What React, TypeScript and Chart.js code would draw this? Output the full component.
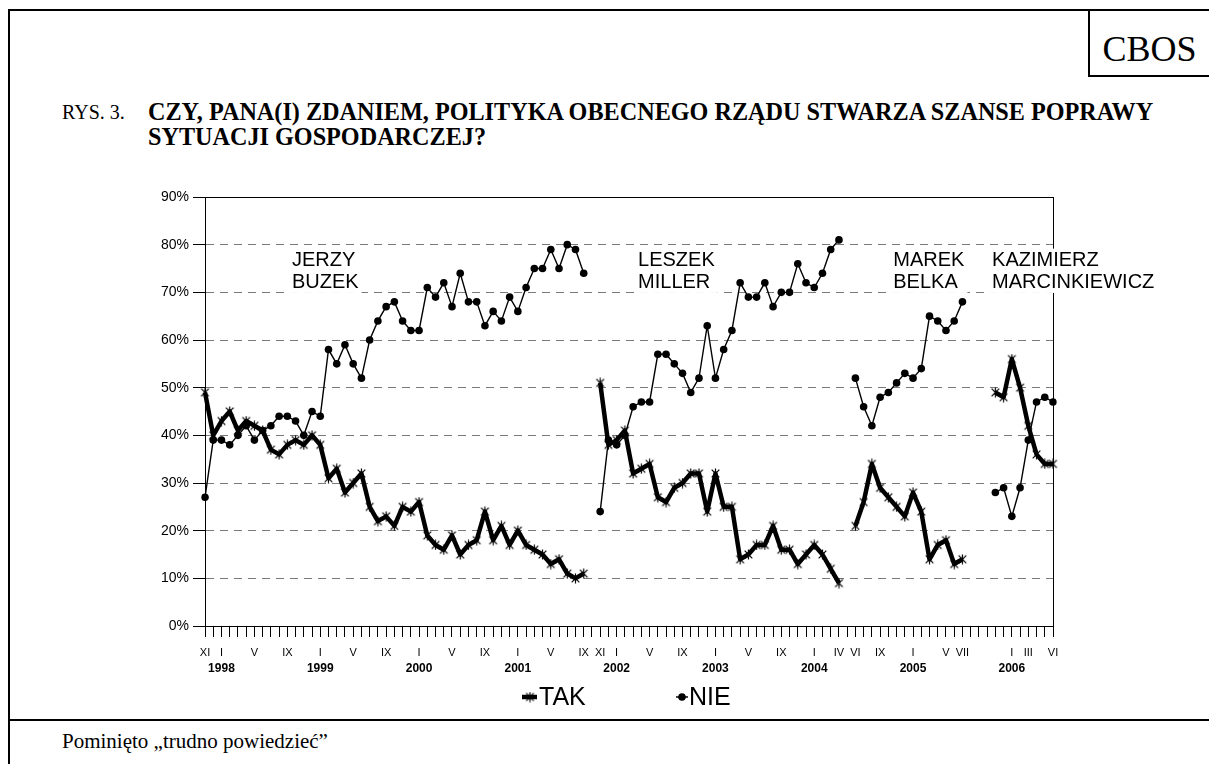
import React, { useEffect, useRef } from 'react';
import { Chart, registerables } from 'chart.js';

Chart.register(...registerables);

// ---- categories: one slot per month, XI 1997 .. VI 2006 ----
const ROMAN = ['I', 'II', 'III', 'IV', 'V', 'VI', 'VII', 'VIII', 'IX', 'X', 'XI', 'XII'];
const categories: string[] = [];
for (let yr = 1997; yr <= 2006; yr++) {
  for (let m = 1; m <= 12; m++) {
    if (yr === 1997 && m < 11) continue;
    if (yr === 2006 && m > 6) continue;
    categories.push(`${ROMAN[m - 1]} ${yr}`);
  }
}

// ---- tick labels ----
const monthTickLabels = [
  'XI 1997', 'I 1998', 'V 1998', 'IX 1998', 'I 1999', 'V 1999', 'IX 1999',
  'I 2000', 'V 2000', 'IX 2000', 'I 2001', 'V 2001', 'IX 2001', 'XI 2001',
  'I 2002', 'V 2002', 'IX 2002', 'I 2003', 'V 2003', 'IX 2003', 'I 2004',
  'IV 2004', 'VI 2004', 'IX 2004', 'I 2005', 'V 2005', 'VII 2005',
  'I 2006', 'III 2006', 'VI 2006',
];
const yearTickLabels = ['1998', '1999', '2000', '2001', '2002', '2003', '2004', '2005', '2006'];
const yTickValues = [0, 10, 20, 30, 40, 50, 60, 70, 80, 90];

// ---- series values (%) ----
// Buzek government: XI 1997 .. IX 2001
const takBuzek = [49, 40, 43, 45, 41, 43, 42, 41, 37, 36, 38, 39, 38, 40, 38, 31, 33, 28, 30, 32, 25, 22, 23, 21, 25, 24, 26, 19, 17, 16, 19, 15, 17, 18, 24, 18, 21, 17, 20, 17, 16, 15, 13, 14, 11, 10, 11];
const nieBuzek = [27, 39, 39, 38, 40, 42, 39, 41, 42, 44, 44, 43, 40, 45, 44, 58, 55, 59, 55, 52, 60, 64, 67, 68, 64, 62, 62, 71, 69, 72, 67, 74, 68, 68, 63, 66, 64, 69, 66, 71, 75, 75, 79, 75, 80, 79, 74];
// Miller government: XI 2001 .. IV 2004
const takMiller = [51, 38, 39, 41, 32, 33, 34, 27, 26, 29, 30, 32, 32, 24, 32, 25, 25, 14, 15, 17, 17, 21, 16, 16, 13, 15, 17, 15, 12, 9];
const nieMiller = [24, 39, 38, 40, 46, 47, 47, 57, 57, 55, 53, 49, 52, 63, 52, 58, 62, 72, 69, 69, 72, 67, 70, 70, 76, 72, 71, 74, 79, 81];
// Belka government: VI 2004 .. VII 2005
const takBelka = [21, 26, 34, 29, 27, 25, 23, 28, 24, 14, 17, 18, 13, 14];
const nieBelka = [52, 46, 42, 48, 49, 51, 53, 52, 54, 65, 64, 62, 64, 68];
// Marcinkiewicz government: XI 2005 .. VI 2006
const takMarc = [49, 48, 56, 50, 42, 36, 34, 34];
const nieMarc = [28, 29, 23, 29, 39, 47, 48, 47];

// months without a survey between governments: X 2001 | V 2004 | VIII-X 2005
const tak: (number | null)[] = [...takBuzek, null, ...takMiller, null, ...takBelka, null, null, null, ...takMarc];
const nie: (number | null)[] = [...nieBuzek, null, ...nieMiller, null, ...nieBelka, null, null, null, ...nieMarc];

const SANS = '"Liberation Sans", Arial, sans-serif';
const SERIF = '"Liberation Serif", "Times New Roman", serif';

function makeStar(size: number): HTMLCanvasElement {
  const c = document.createElement('canvas');
  c.width = size;
  c.height = size;
  const g = c.getContext('2d')!;
  g.strokeStyle = '#000';
  g.lineWidth = 1.2;
  const cx = size / 2;
  const r = size / 2 - 0.6;
  const d = r * 0.78;
  g.beginPath();
  g.moveTo(cx, cx - r);
  g.lineTo(cx, cx + r);
  g.moveTo(cx - d, cx - d);
  g.lineTo(cx + d, cx + d);
  g.moveTo(cx + d, cx - d);
  g.lineTo(cx - d, cx + d);
  g.stroke();
  return c;
}

const framePlugin = {
  id: 'plotFrame',
  beforeDatasetsDraw(chart: any) {
    const { ctx, chartArea: a } = chart;
    ctx.save();
    ctx.strokeStyle = '#000';
    ctx.lineWidth = 1;
    ctx.strokeRect(Math.round(a.left) + 0.5, Math.round(a.top) + 0.5, Math.round(a.right - a.left), Math.round(a.bottom - a.top));
    ctx.restore();
  },
};

const nameLabelsPlugin = {
  id: 'nameLabels',
  afterDatasetsDraw(chart: any, _args: any, opts: any) {
    const { ctx } = chart;
    const x = chart.scales.x;
    const y = chart.scales.y;
    ctx.save();
    ctx.font = `20px ${SANS}`;
    ctx.textBaseline = 'alphabetic';
    ctx.textAlign = 'left';
    const lh = 22.8;
    for (const item of opts.items) {
      const px = x.getPixelForValue(item.x);
      const py = y.getPixelForValue(item.y);
      let w = 0;
      for (const l of item.lines) w = Math.max(w, ctx.measureText(l).width);
      ctx.fillStyle = '#fff';
      ctx.fillRect(px - 3, py - 17, w + 6, lh * (item.lines.length - 1) + 21.5);
      ctx.fillStyle = '#000';
      item.lines.forEach((l: string, i: number) => ctx.fillText(l, px, py + i * lh));
    }
    ctx.restore();
  },
};

export default function App() {
  const canvasRef = useRef<HTMLCanvasElement | null>(null);

  useEffect(() => {
    if (!canvasRef.current) return;
    const star = makeStar(11);
    const monthSet = new Set(monthTickLabels);

    const legendPlugin = {
      id: 'customLegend',
      afterDraw(chart: any) {
        const { ctx, chartArea: a } = chart;
        const cx = (a.left + a.right) / 2;
        const yy = a.bottom + 71;
        ctx.save();
        ctx.strokeStyle = '#000';
        ctx.fillStyle = '#000';
        ctx.lineWidth = 4.5;
        ctx.beginPath();
        ctx.moveTo(cx - 107, yy);
        ctx.lineTo(cx - 92, yy);
        ctx.stroke();
        ctx.drawImage(star, cx - 99 - star.width / 2, yy - star.height / 2);
        ctx.lineWidth = 1.5;
        ctx.beginPath();
        ctx.moveTo(cx + 47, yy);
        ctx.lineTo(cx + 59, yy);
        ctx.stroke();
        ctx.beginPath();
        ctx.arc(cx + 53, yy, 3.8, 0, Math.PI * 2);
        ctx.fill();
        ctx.font = `25px ${SANS}`;
        ctx.textBaseline = 'middle';
        ctx.textAlign = 'left';
        ctx.fillText('TAK', cx - 90, yy + 1);
        ctx.fillText('NIE', cx + 60, yy + 1);
        ctx.restore();
      },
    };

    const chart = new Chart(canvasRef.current, {
      type: 'line',
      data: {
        labels: categories,
        datasets: [
          {
            label: 'TAK',
            data: tak,
            xAxisID: 'x',
            yAxisID: 'y',
            borderColor: '#000',
            backgroundColor: '#000',
            borderWidth: 4.5,
            borderJoinStyle: 'round',
            pointStyle: star as any,
            pointRadius: 5.5,
            pointHoverRadius: 5.5,
            spanGaps: false,
            tension: 0,
          },
          {
            label: 'NIE',
            data: nie,
            xAxisID: 'x',
            yAxisID: 'y',
            borderColor: '#000',
            backgroundColor: '#000',
            borderWidth: 1.4,
            pointStyle: 'circle',
            pointRadius: 3.8,
            pointHoverRadius: 3.8,
            pointBorderWidth: 0,
            spanGaps: false,
            tension: 0,
          },
        ],
      },
      options: {
        animation: false,
        responsive: true,
        maintainAspectRatio: false,
        events: [],
        layout: { padding: { left: 0, right: 156, top: 37, bottom: 36 } },
        plugins: {
          legend: { display: false },
          tooltip: { enabled: false },
          nameLabels: {
            items: [
              { lines: ['JERZY', 'BUZEK'], x: 10.57, y: 75.6 },
              { lines: ['LESZEK', 'MILLER'], x: 52.6, y: 75.6 },
              { lines: ['MAREK', 'BELKA'], x: 83.6, y: 75.6 },
              { lines: ['KAZIMIERZ', 'MARCINKIEWICZ'], x: 95.6, y: 75.6 },
            ],
          },
        } as any,
        scales: {
          x: {
            type: 'category',
            position: 'bottom',
            offset: false,
            grid: {
              display: true,
              drawOnChartArea: false,
              drawTicks: true,
              tickLength: 11,
              tickColor: '#000',
              tickWidth: 1,
            },
            border: { display: true, color: '#000', width: 1 },
            ticks: {
              autoSkip: false,
              maxRotation: 0,
              minRotation: 0,
              padding: 9,
              color: '#000',
              font: { family: SANS, size: 11 },
              callback: (_v: any, i: number) => {
                const c = categories[i];
                return monthSet.has(c) ? c.split(' ')[0] : '';
              },
            },
            afterFit: (s: any) => {
              s.height = 34;
              s.paddingLeft = 0;
              s.paddingRight = 0;
            },
          },
          x2: {
            type: 'category',
            position: 'bottom',
            offset: false,
            grid: { display: false, drawTicks: false },
            border: { display: false },
            ticks: {
              autoSkip: false,
              maxRotation: 0,
              minRotation: 0,
              padding: 1,
              color: '#000',
              font: { family: SANS, size: 12, weight: 'bold' },
              callback: (_v: any, i: number) => {
                const [m, yr] = categories[i].split(' ');
                return m === 'I' && yearTickLabels.includes(yr) ? yr : '';
              },
            },
            afterFit: (s: any) => {
              s.height = 24;
              s.paddingLeft = 0;
              s.paddingRight = 0;
            },
          },
          y: {
            type: 'linear',
            position: 'left',
            min: 0,
            max: 90,
            afterBuildTicks: (s: any) => {
              s.ticks = yTickValues.map((v) => ({ value: v }));
            },
            grid: {
              display: true,
              drawOnChartArea: true,
              drawTicks: true,
              tickLength: 12,
              tickColor: '#000',
              lineWidth: 1,
              color: (c: any) =>
                c.tick && (c.tick.value === 0 || c.tick.value === 90) ? 'rgba(0,0,0,0)' : '#7a7a7a',
            },
            border: { display: true, color: '#000', width: 1, dash: [8, 6] },
            ticks: {
              padding: 4,
              color: '#000',
              font: { family: SANS, size: 14 },
              callback: (v: any) => `${v}%`,
            },
            afterFit: (s: any) => {
              s.width = 205;
              s.paddingTop = 0;
              s.paddingBottom = 0;
            },
          },
        },
      } as any,
      plugins: [framePlugin, nameLabelsPlugin, legendPlugin],
    });
    return () => chart.destroy();
  }, []);

  const line = (l: number, t: number, w: number, h: number) => (
    <div style={{ position: 'absolute', left: l, top: t, width: w, height: h, background: '#000' }} />
  );

  return (
    <div
      style={{
        position: 'absolute',
        left: 0,
        top: 0,
        width: 1209,
        height: 764,
        overflow: 'hidden',
        background: '#fff',
        color: '#000',
      }}
    >
      <div style={{ position: 'absolute', left: 0, top: 160, width: 1209, height: 560 }}>
        <canvas ref={canvasRef} />
      </div>

      {/* outer frame */}
      {line(8, 9, 1201, 2)}
      {line(8, 9, 2, 755)}
      {/* CBOS box */}
      {line(1088, 9, 2, 67)}
      {line(1088, 75, 121, 2)}
      {/* footer separator */}
      {line(8, 719, 1201, 2)}

      <div
        style={{
          position: 'absolute',
          left: 1090,
          top: 31,
          width: 119,
          textAlign: 'center',
          font: `36px/36px ${SERIF}`,
          whiteSpace: 'nowrap',
        }}
      >
        CBOS
      </div>

      <div style={{ position: 'absolute', left: 62, top: 100, font: `20px/25px ${SERIF}`, whiteSpace: 'nowrap' }}>
        RYS. 3.
      </div>
      <div style={{ position: 'absolute', left: 148, top: 99, font: `bold 24.2px/25px ${SERIF}`, whiteSpace: 'nowrap' }}>
        CZY, PANA(I) ZDANIEM, POLITYKA OBECNEGO RZĄDU STWARZA SZANSE POPRAWY
        <br />
        SYTUACJI GOSPODARCZEJ?
      </div>

      <div style={{ position: 'absolute', left: 62, top: 731, font: `21px/21px ${SERIF}`, whiteSpace: 'nowrap' }}>
        Pominięto „trudno powiedzieć”
      </div>
    </div>
  );
}
